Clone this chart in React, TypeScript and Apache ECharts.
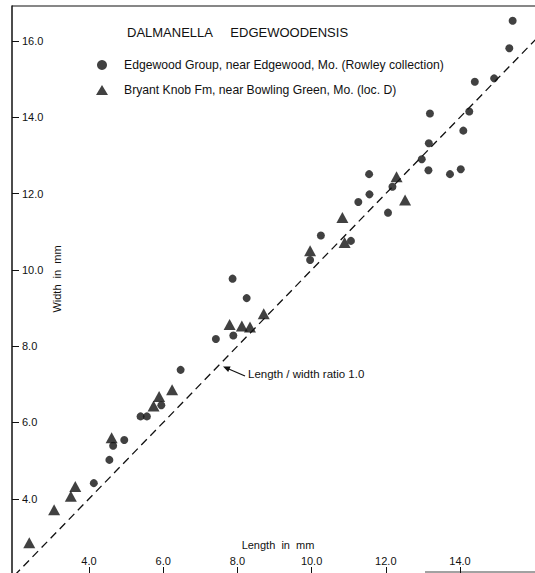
import React, { useEffect, useRef } from "react";
import * as echarts from "echarts";

// Length (mm), Width (mm)
const edgewoodGroup: [number, number][] = [
  [15.42, 16.53], [15.33, 15.81], [14.4, 14.93], [14.92, 15.02],
  [13.19, 14.1], [14.25, 14.15], [14.09, 13.65], [13.16, 13.32],
  [12.97, 12.9], [13.15, 12.61], [13.73, 12.51], [14.02, 12.64],
  [11.55, 12.51], [11.56, 11.98], [12.18, 12.18], [11.26, 11.78],
  [12.06, 11.5], [10.25, 10.9], [11.06, 10.76], [9.96, 10.26],
  [7.87, 9.77], [8.25, 9.26], [7.42, 8.19], [7.89, 8.28],
  [6.47, 7.38], [5.95, 6.45], [5.39, 6.16], [5.56, 6.16],
  [4.95, 5.54], [4.65, 5.39], [4.55, 5.02], [4.13, 4.41],
];

const bryantKnob: [number, number][] = [
  [2.39, 2.85], [3.06, 3.71], [3.51, 4.07], [3.63, 4.32],
  [4.61, 5.6], [5.74, 6.43], [5.89, 6.68], [6.24, 6.86],
  [7.79, 8.57], [8.12, 8.53], [8.34, 8.5], [8.71, 8.85],
  [9.96, 10.5], [10.83, 11.37], [10.89, 10.72], [12.29, 12.44],
  [12.52, 11.83],
];

const ratioLine: [number, number][] = [[1.5, 1.5], [17.5, 17.5]];

const xTicks = [4, 6, 8, 10, 12, 14];
const yTicks = [4, 6, 8, 10, 12, 14, 16];

const seriesNames = [
  "Edgewood Group, near Edgewood, Mo. (Rowley collection)",
  "Bryant Knob Fm, near Bowling Green, Mo. (loc. D)",
];

const INK = "#111";
const FONT = "'Liberation Sans', Arial, sans-serif";

export default function App() {
  const ref = useRef<HTMLDivElement>(null);

  useEffect(() => {
    if (!ref.current) return;
    const chart = echarts.init(ref.current, undefined, { renderer: "svg" });
    chart.setOption({
      animation: false,
      backgroundColor: "#fff",
      textStyle: { fontFamily: FONT, color: INK },
      title: {
        text: "DALMANELLA     EDGEWOODENSIS",
        left: 122,
        top: 21,
        textStyle: { fontSize: 13, fontWeight: "normal", color: INK, fontFamily: FONT },
      },
      legend: {
        orient: "vertical",
        left: 91,
        top: 54,
        itemWidth: 12,
        itemHeight: 10,
        itemGap: 13,
        textStyle: { fontSize: 12.2, color: INK, fontFamily: FONT, padding: [0, 0, 0, 11] },
        data: seriesNames,
      },
      grid: { left: 12, right: 0, top: 6, bottom: 0, containLabel: false },
      xAxis: {
        type: "value",
        min: 1.9245,
        max: 16.022,
        axisLine: { show: false, onZero: false },
        splitLine: { show: false },
        axisTick: {
          show: true,
          inside: true,
          length: 6,
          customValues: xTicks,
          lineStyle: { color: INK, width: 1 },
        },
        axisLabel: {
          show: true,
          inside: true,
          margin: 7,
          customValues: xTicks,
          formatter: (v: number) => v.toFixed(1),
          fontSize: 11,
          color: INK,
          fontFamily: FONT,
        },
      },
      yAxis: {
        type: "value",
        min: 2.055,
        max: 16.917,
        axisLine: { show: true, onZero: false, lineStyle: { color: INK, width: 1.5 } },
        splitLine: { show: false },
        axisTick: {
          show: true,
          inside: true,
          length: 7,
          customValues: yTicks,
          lineStyle: { color: INK, width: 1 },
        },
        axisLabel: {
          show: true,
          inside: true,
          margin: 10,
          customValues: yTicks,
          formatter: (v: number) => v.toFixed(1),
          fontSize: 11,
          color: INK,
          fontFamily: FONT,
        },
      },
      series: [
        {
          name: seriesNames[0],
          type: "scatter",
          symbol: "circle",
          symbolSize: 8,
          data: edgewoodGroup,
          itemStyle: { color: INK },
        },
        {
          name: seriesNames[1],
          type: "scatter",
          symbol: "triangle",
          symbolSize: [12, 11],
          data: bryantKnob,
          itemStyle: { color: INK },
        },
        {
          name: "Length / width ratio 1.0",
          type: "line",
          data: ratioLine,
          symbol: "none",
          silent: true,
          clip: true,
          lineStyle: { type: [8, 5], width: 1.3, color: INK },
        },
      ],
      graphic: [
        { type: "line", shape: { x1: 12, y1: 6, x2: 535, y2: 6 }, style: { stroke: INK, lineWidth: 1.2 } },
        { type: "line", shape: { x1: 425, y1: 572, x2: 535, y2: 572 }, style: { stroke: "#444", lineWidth: 1 } },
        {
          type: "text",
          x: 278,
          y: 545,
          style: { text: "Length  in  mm", fontSize: 11, fontFamily: FONT, fill: INK, align: "center", verticalAlign: "middle" },
        },
        {
          type: "text",
          x: 57,
          y: 279,
          rotation: Math.PI / 2,
          style: { text: "Width  in  mm", fontSize: 11, fontFamily: FONT, fill: INK, align: "center", verticalAlign: "middle" },
        },
        {
          type: "text",
          x: 248,
          y: 374,
          style: { text: "Length / width ratio 1.0", fontSize: 11.5, fontFamily: FONT, fill: INK, align: "left", verticalAlign: "middle" },
        },
        { type: "line", shape: { x1: 245, y1: 376, x2: 227, y2: 368.2 }, style: { stroke: INK, lineWidth: 1.2 } },
        { type: "polygon", shape: { points: [[223, 366.5], [230.6, 366.5], [228.2, 372.1]] }, style: { fill: INK } },
      ],
    });
    return () => chart.dispose();
  }, []);

  return (
    <div
      ref={ref}
      style={{ position: "fixed", left: 0, top: 0, width: 535, height: 573, background: "#fff" }}
    />
  );
}
